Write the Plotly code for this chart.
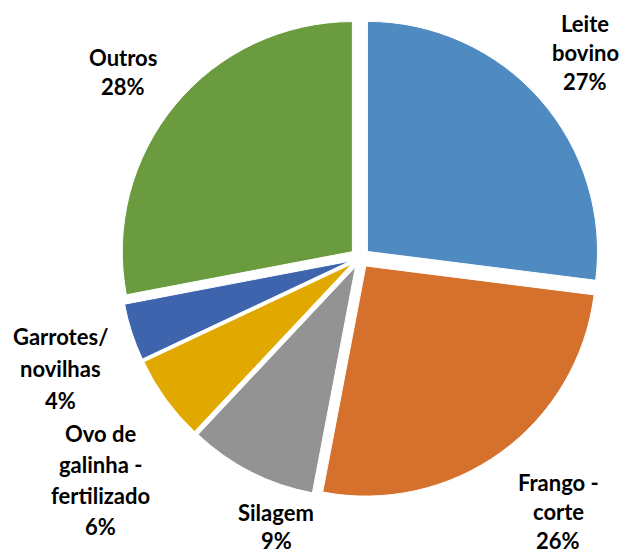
import plotly.graph_objects as go

# Participation of each product (share, %)
labels = ["Leite bovino", "Frango - corte", "Silagem",
          "Ovo de galinha - fertilizado", "Garrotes/novilhas", "Outros"]
values = [27, 26, 9, 6, 4, 28]
label_lines = [["Leite", "bovino"], ["Frango -", "corte"], ["Silagem"],
               ["Ovo de", "galinha -", "fertilizado"], ["Garrotes/", "novilhas"],
               ["Outros"]]
colors = ["#4F8AC0", "#D5712D", "#939393", "#E1A800", "#3E64AD", "#6A9C3F"]

W, H = 623, 555

fig = go.Figure(go.Pie(
    labels=labels,
    values=values,
    sort=False,
    direction="clockwise",
    rotation=0,
    pull=[0.043] * len(values),
    marker=dict(colors=colors, line=dict(color="white", width=1)),
    textinfo="none",
    hoverinfo="label+percent",
    domain=dict(x=[120 / W, 600 / W], y=[1 - 498 / H, 1 - 18 / H]),
    showlegend=False,
))

# Label anchor (centre of the first text line, in pixels) and line spacing
label_pos = [(585, 23, 29), (558, 482, 29), (276, 512, 28),
             (100, 433, 31), (61, 336, 32), (123, 57, 30)]
total = sum(values)

annotations = []
for lines, v, (px, py, gap) in zip(label_lines, values, label_pos):
    pct = f"{round(100 * v / total)}%"
    for i, txt in enumerate(lines + [pct]):
        annotations.append(dict(
            text=f"<b>{txt}</b>",
            x=px / W, y=1 - (py + i * gap) / H,
            xref="paper", yref="paper",
            xanchor="center", yanchor="middle",
            showarrow=False, borderpad=0,
            font=dict(family="Lato", size=22, color="#000000"),
        ))

fig.update_layout(
    width=W, height=H,
    margin=dict(l=0, r=0, t=0, b=0),
    paper_bgcolor="white",
    plot_bgcolor="white",
    annotations=annotations,
)

fig.write_html("out.html")
